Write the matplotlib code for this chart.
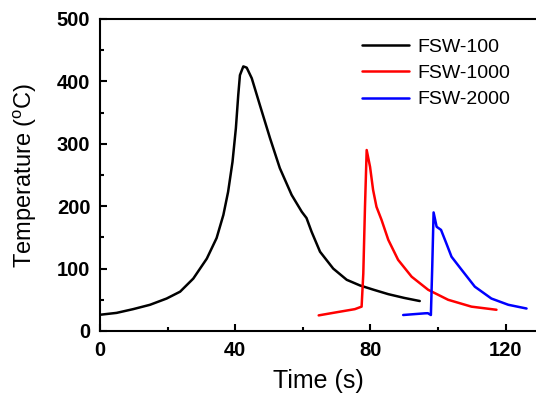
import matplotlib
matplotlib.use('Agg')
import matplotlib.pyplot as plt
from matplotlib.ticker import MultipleLocator

plt.rcParams['font.family'] = ['Liberation Sans', 'DejaVu Sans']
plt.rcParams['mathtext.fontset'] = 'custom'
plt.rcParams['mathtext.rm'] = 'Liberation Sans'

# FSW-100
t_100 = [0, 4.9, 9.8, 14.8, 19.7, 23.7, 27.6, 31.6, 34.5, 36.5, 37.9, 39.2, 40.2,
         40.9, 41.4, 42.4, 43.4, 44.9, 47.3, 50.3, 53.2, 56.7, 59.7, 61.1, 62.6,
         65.1, 69.0, 73.0, 76.9, 81.0, 85.3, 90.0, 94.6]
T_100 = [26, 29, 35, 42, 52, 63, 84, 116, 149, 186, 223, 271, 325,
         378, 410, 424, 422, 405, 362, 309, 261, 218, 191, 181, 159,
         127, 100, 82, 73, 66, 59, 53, 48]

# FSW-1000
t_1000 = [64.7, 70.0, 75.4, 77.4, 77.9, 78.4, 78.9, 79.9, 80.8, 81.8, 83.3, 85.3,
          88.2, 92.2, 97.1, 103.0, 109.9, 117.3]
T_1000 = [25, 30, 35, 39, 92, 199, 290, 263, 226, 199, 178, 146,
          114, 87, 66, 50, 39, 34]

# FSW-2000
t_2000 = [89.7, 93.0, 96.1, 97.0, 97.9, 98.3, 98.7, 99.6, 100.9, 102.5, 104.0,
          107.0, 110.9, 115.8, 120.8, 126.2]
T_2000 = [25.6, 27, 28.3, 28.5, 25.6, 103, 190, 167, 162, 140, 119,
          98, 71, 52, 42, 36]

fig = plt.figure(figsize=(5.36, 3.93), dpi=100)
ax = fig.add_axes([0.1866, 0.1578, 0.8134, 0.7939])

style = dict(lw=1.8, solid_joinstyle='round', solid_capstyle='round')
ax.plot(t_100, T_100, color='black', label='FSW-100', **style)
ax.plot(t_1000, T_1000, color='red', label='FSW-1000', **style)
ax.plot(t_2000, T_2000, color='blue', label='FSW-2000', **style)

ax.set_xlim(0, 129)
ax.set_ylim(0, 500)
ax.xaxis.set_major_locator(MultipleLocator(40))
ax.xaxis.set_minor_locator(MultipleLocator(20))
ax.yaxis.set_major_locator(MultipleLocator(100))
ax.yaxis.set_minor_locator(MultipleLocator(50))
ax.tick_params(which='both', direction='in', width=1.5, pad=7, labelsize=14.5)
ax.tick_params(which='major', length=5)
ax.tick_params(which='minor', length=3)
for lab in ax.get_xticklabels() + ax.get_yticklabels():
    lab.set_fontweight('bold')

for s in ['left', 'bottom', 'top']:
    ax.spines[s].set_linewidth(1.5)
ax.spines['right'].set_visible(False)

ax.set_xlabel('Time (s)', fontsize=18, labelpad=7)
ax.set_ylabel('Temperature ($^\\mathregular{o}$C)', fontsize=17, labelpad=13)

ax.legend(loc='upper right', frameon=False, fontsize=14, handlelength=2.4,
          handletextpad=0.4, labelspacing=0.45, bbox_to_anchor=(0.98, 0.995))

fig.savefig('out.png', dpi=100)
